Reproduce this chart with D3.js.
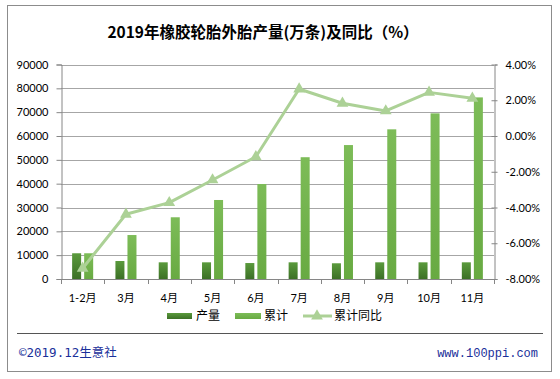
<!DOCTYPE html>
<html><head><meta charset="utf-8">
<script src="https://cdn.jsdelivr.net/npm/d3@7"></script>
<style>
html,body{margin:0;padding:0;background:#fff;}
svg{display:block;}
text{font-family:Lato,"Noto Sans CJK SC",sans-serif;}
</style></head>
<body>
<svg id="c" width="560" height="379"></svg>
<script>
const categories = ["1-2月","3月","4月","5月","6月","7月","8月","9月","10月","11月"];
const production = [10800,7550,7000,7000,6700,7000,6600,7000,7000,7000];
const cumulative = [10800,18450,25900,33150,39850,51100,56200,62800,69500,76200];
const yoy = [-7.4,-4.38,-3.73,-2.46,-1.16,2.63,1.83,1.4,2.44,2.11];
const leftTicks = [0,10000,20000,30000,40000,50000,60000,70000,80000,90000];
const rightTicks = [-8,-6,-4,-2,0,2,4];
const seriesNames = ["产量","累计","累计同比"];
const title = "2019年橡胶轮胎外胎产量(万条)及同比（%）";

const svg = d3.select("#c");
const L = 61, R = 494, T = 64.5, B = 279;

// outer border
svg.append("rect").attr("x",7.5).attr("y",5.5).attr("width",544).attr("height",366)
  .attr("fill","#fff").attr("stroke","#8c8c8c").attr("stroke-width",1);

const defs = svg.append("defs");
const g1 = defs.append("linearGradient").attr("id","gd").attr("x1",0).attr("y1",0).attr("x2",0).attr("y2",1);
g1.append("stop").attr("offset","0%").attr("stop-color","#5a9a3c");
g1.append("stop").attr("offset","100%").attr("stop-color","#3c7026");
const g2 = defs.append("linearGradient").attr("id","gl").attr("x1",0).attr("y1",0).attr("x2",0).attr("y2",1);
g2.append("stop").attr("offset","0%").attr("stop-color","#7dbc58");
g2.append("stop").attr("offset","100%").attr("stop-color","#68aa42");

const x = d3.scaleBand().domain(categories).range([L,R]).paddingInner(0).paddingOuter(0);
const yL = d3.scaleLinear().domain([0,90000]).range([B,T]);
const yR = d3.scaleLinear().domain([-8,4]).range([B,T]);

// gridlines
svg.append("g").selectAll("line").data(leftTicks.filter(d=>d>0)).join("line")
  .attr("x1",L).attr("x2",R).attr("y1",d=>Math.round(yL(d))+0.5).attr("y2",d=>Math.round(yL(d))+0.5)
  .attr("stroke","#a6a6a6").attr("stroke-width",1);

// bars
const bw = x.bandwidth()*0.208, gap = x.bandwidth()*0.07;
svg.append("g").selectAll("rect").data(production).join("rect")
  .attr("x",(d,i)=>x(categories[i])+x.bandwidth()/2-gap/2-bw)
  .attr("width",bw).attr("y",d=>yL(d)).attr("height",d=>B-yL(d)).attr("fill","url(#gd)");
svg.append("g").selectAll("rect").data(cumulative).join("rect")
  .attr("x",(d,i)=>x(categories[i])+x.bandwidth()/2+gap/2)
  .attr("width",bw).attr("y",d=>yL(d)).attr("height",d=>B-yL(d)).attr("fill","url(#gl)");

// axes
const axL = d3.axisLeft(yL).tickValues(leftTicks).tickSize(5).tickPadding(8).tickFormat(d=>d);
const gL = svg.append("g").attr("transform",`translate(${L+0.5},0)`).call(axL);
const axR = d3.axisRight(yR).tickValues(rightTicks).tickSize(3).tickPadding(8).tickFormat(d=>d.toFixed(2)+"%");
const gR = svg.append("g").attr("transform",`translate(${R+0.5},0)`).call(axR);
gR.selectAll(".tick line").attr("x1",-3);
const axB = d3.axisBottom(x).tickSize(0).tickPadding(15);
const gB = svg.append("g").attr("transform",`translate(0,${B+0.5})`).call(axB);
[gL,gR,gB].forEach(g=>{
  g.select(".domain").attr("stroke","#868686");
  g.selectAll(".tick line").attr("stroke","#868686");
  g.selectAll("text").attr("fill","#000").style("font-size","11px").attr("font-family",'Lato,"Noto Sans CJK SC",sans-serif');
});
gB.select(".domain").attr("d",`M${L},0H${R}`);
// category boundary ticks
svg.append("g").selectAll("line").data(categories.concat(["__end"])).join("line")
  .attr("x1",(d,i)=>Math.round(L+i*x.step())+0.5).attr("x2",(d,i)=>Math.round(L+i*x.step())+0.5)
  .attr("y1",B).attr("y2",B+5).attr("stroke","#868686");

// line series
const lineGen = d3.line().x((d,i)=>x(categories[i])+x.bandwidth()/2).y(d=>yR(d));
svg.append("path").datum(yoy).attr("d",lineGen).attr("fill","none")
  .attr("stroke","#acd196").attr("stroke-width",3).attr("stroke-linejoin","round");
const tri = d3.symbol().type(d3.symbolTriangle).size(60);
svg.append("g").selectAll("path").data(yoy).join("path")
  .attr("transform",(d,i)=>`translate(${x(categories[i])+x.bandwidth()/2},${yR(d)})`)
  .attr("d",tri).attr("fill","#acd196");

// title
svg.append("text").attr("x",263).attr("y",38).attr("text-anchor","middle")
  .style("font-size","15.5px").style("font-weight","bold").attr("fill","#000")
  .style("font-family",'"Noto Sans CJK SC",sans-serif').text(title);

// legend
const lg = svg.append("g");
lg.append("rect").attr("x",167).attr("y",313).attr("width",25).attr("height",6).attr("fill","url(#gd)");
lg.append("text").attr("x",196).attr("y",320).style("font-size","12px").text(seriesNames[0]);
lg.append("rect").attr("x",235).attr("y",313).attr("width",26).attr("height",6).attr("fill","url(#gl)");
lg.append("text").attr("x",264).attr("y",320).style("font-size","12px").text(seriesNames[1]);
lg.append("line").attr("x1",303).attr("x2",332).attr("y1",316).attr("y2",316).attr("stroke","#acd196").attr("stroke-width",3);
lg.append("path").attr("transform","translate(317,316)").attr("d",tri).attr("fill","#acd196");
lg.append("text").attr("x",334).attr("y",320).style("font-size","12px").text(seriesNames[2]);

// footer
svg.append("line").attr("x1",17).attr("x2",543).attr("y1",333.5).attr("y2",333.5).attr("stroke","#555").attr("stroke-width",1);
svg.append("text").attr("x",19).attr("y",357).attr("fill","#1a2f9a").style("font-size","12.5px")
  .style("font-family",'"DejaVu Sans Mono","Noto Sans CJK SC",monospace').text("©2019.12生意社");
svg.append("text").attr("x",538).attr("y",357).attr("text-anchor","end").attr("fill","#1a2f9a").style("font-size","12px")
  .style("font-family",'"Liberation Mono",monospace').text("www.100ppi.com");
</script>
</body></html>
